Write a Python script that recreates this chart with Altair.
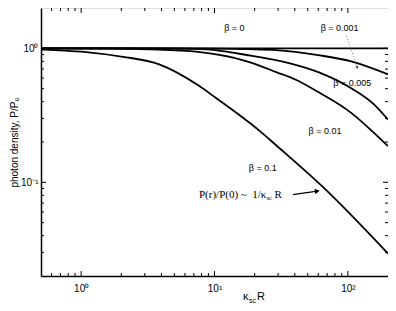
import altair as alt
import pandas as pd

# ---- curve data (kappa_sc R, P/P0) ----
x_b0 = [0.5, 200.0]
y_b0 = [1.0, 1.0]

x_b001 = [0.5, 5.0, 10.0, 17.5, 29.0, 60.0, 106.0, 200.0]
y_b001 = [1.0, 0.999, 0.995, 0.985, 0.97, 0.89, 0.80, 0.64]

x_b005 = [0.5, 3.25, 7.55, 17.5, 37.4, 60.0, 106.0, 157.0, 200.0]
y_b005 = [1.0, 0.998, 0.99, 0.892, 0.77, 0.665, 0.504, 0.382, 0.294]

x_b01 = [0.5, 1.4, 3.25, 7.55, 17.5, 29.0, 40.7, 60.0, 106.0, 157.0, 200.0]
y_b01 = [1.0, 0.997, 0.982, 0.94, 0.80, 0.665, 0.583, 0.472, 0.33, 0.234, 0.186]

x_b1 = [0.5, 0.75, 1.18, 2.06, 3.85, 7.55, 10.2, 21.8, 29.0, 65.2, 200.0]
y_b1 = [0.98, 0.96, 0.93, 0.865, 0.76, 0.53, 0.428, 0.242, 0.189, 0.092, 0.0294]

series = {"0": (x_b0, y_b0), "0.001": (x_b001, y_b001), "0.005": (x_b005, y_b005),
          "0.01": (x_b01, y_b01), "0.1": (x_b1, y_b1)}

# tick values
x_major = [1, 10, 100]
x_minor = [0.6, 0.7, 0.8, 0.9, 2, 3, 4, 5, 6, 7, 8, 9, 20, 30, 40, 50, 60, 70, 80, 90]
y_major = [0.1, 1]
y_minor = [0.03, 0.04, 0.05, 0.06, 0.07, 0.08, 0.09, 0.2, 0.3, 0.4, 0.5, 0.6, 0.7, 0.8, 0.9]

# annotation texts and anchors (data coordinates)
ann_text = ["β = 0", "β = 0.001", "β = 0.005", "β = 0.01", "β = 0.1"]
ann_x = [14.1, 86.8, 108.0, 67.4, 23.0]
ann_y = [1.41, 1.41, 0.547, 0.241, 0.128]

rows = []
for b, (xs_, ys_) in series.items():
    for a, c in zip(xs_, ys_):
        rows.append({"x": a, "y": c, "beta": b})
df = pd.DataFrame(rows)

W, H = 347, 268
FONT = "Liberation Sans"
xs = alt.Scale(type="log", domain=[0.5, 200], nice=False)
ys = alt.Scale(type="log", domain=[0.02, 2], nice=False)

XAX = alt.Axis(
    values=x_major, ticks=False, grid=False, title=None, domainColor="black", domainWidth=1.5,
    labelExpr="datum.value == 1 ? '10⁰' : (datum.value == 10 ? '10¹' : '10²')",
    labelFont=FONT, labelFontSize=10, labelColor="black", labelPadding=7)
YAX = alt.Axis(
    values=y_major, ticks=False, grid=False, title="photon density, P/P₀",
    titleFont=FONT, titleFontSize=10, titleFontWeight="normal", titleColor="black", titlePadding=1,
    domainColor="black", domainWidth=1.5,
    labelExpr="datum.value == 1 ? '10⁰' : '10⁻¹'",
    labelFont=FONT, labelFontSize=10, labelColor="black", labelPadding=3)


def X(field):
    return alt.X(field, scale=xs, axis=XAX)


def Y(field):
    return alt.Y(field, scale=ys, axis=YAX)


lines = alt.Chart(df).mark_line(color="black", strokeWidth=1.8, interpolate="monotone", clip=True).encode(
    x=X("x:Q"), y=Y("y:Q"), detail="beta:N")


def tick_layer(vals, axis, side, length):
    d = pd.DataFrame({"v": vals})
    base = alt.Chart(d).mark_rule(color="black", strokeWidth=1)
    if axis == "x":
        y0 = H if side == "bottom" else 0
        y1 = H - length if side == "bottom" else length
        return base.encode(x=X("v:Q"), y=alt.value(y0), y2=alt.value(y1))
    x0 = 0 if side == "left" else W
    x1 = length if side == "left" else W - length
    return base.encode(y=Y("v:Q"), x=alt.value(x0), x2=alt.value(x1))


ticks = [
    tick_layer(x_major, "x", "bottom", 5), tick_layer(x_minor, "x", "bottom", 3),
    tick_layer(x_major, "x", "top", 5), tick_layer(x_minor, "x", "top", 3),
    tick_layer(y_major, "y", "left", 5), tick_layer(y_minor, "y", "left", 3),
    tick_layer(y_major, "y", "right", 5), tick_layer(y_minor, "y", "right", 3),
]

ann_df = pd.DataFrame({"t": ann_text, "x": ann_x, "y": ann_y})
ann = alt.Chart(ann_df).mark_text(font=FONT, fontSize=9, color="black", align="center", baseline="middle").encode(
    x=X("x:Q"), y=Y("y:Q"), text="t:N")

# formula annotation P(r)/P(0) ~ 1/kappa_sc R
f_x, f_y = 24.5, 0.081
one = pd.DataFrame({"x": [f_x], "y": [f_y]})
f1 = alt.Chart(one).mark_text(font="Liberation Serif", fontSize=11, color="black", align="right",
                              baseline="middle", text="P(r)/P(0) ~\u00a0\u00a01/κ").encode(x=X("x:Q"), y=Y("y:Q"))
f2 = alt.Chart(one).mark_text(font="Liberation Serif", fontSize=7, color="black", align="left",
                              baseline="middle", dx=0, dy=3, text="sc").encode(x=X("x:Q"), y=Y("y:Q"))
f3 = alt.Chart(one).mark_text(font="Liberation Serif", fontSize=11, color="black", align="left",
                              baseline="middle", dx=8, text="R").encode(x=X("x:Q"), y=Y("y:Q"))

# solid arrow
arr = pd.DataFrame({"x": [38.7], "y": [0.081], "x2": [59.0], "y2": [0.086]})
arrow_line = alt.Chart(arr).mark_rule(color="black", strokeWidth=1.2).encode(
    x=X("x:Q"), y=Y("y:Q"), x2="x2:Q", y2="y2:Q")
arrow_head = alt.Chart(arr).mark_point(shape="triangle-right", filled=True, color="black", size=30,
                                       angle=352, opacity=1).encode(x=X("x2:Q"), y=Y("y2:Q"))

# dotted arrow to beta=0.001
darr = pd.DataFrame({"x": [97.7], "y": [1.236], "x2": [117.5], "y2": [0.72]})
dline = alt.Chart(darr).mark_rule(color="#555555", strokeWidth=0.8, strokeDash=[1, 2]).encode(
    x=X("x:Q"), y=Y("y:Q"), x2="x2:Q", y2="y2:Q")
dhead = alt.Chart(darr).mark_point(shape="triangle-right", filled=True, color="#333333", size=10,
                                   angle=70, opacity=1).encode(x=X("x2:Q"), y=Y("y2:Q"))

# x-axis title kappa_sc R
tdf = pd.DataFrame({"a": [0]})
t1 = alt.Chart(tdf).mark_text(font=FONT, fontSize=11, color="black", align="left", baseline="alphabetic",
                              text="κ").encode(x=alt.value(202), y=alt.value(H + 24))
t2 = alt.Chart(tdf).mark_text(font=FONT, fontSize=7, color="black", align="left", baseline="alphabetic",
                              text="sc").encode(x=alt.value(208), y=alt.value(H + 27))
t3 = alt.Chart(tdf).mark_text(font=FONT, fontSize=11, color="black", align="left", baseline="alphabetic",
                              text="R").encode(x=alt.value(216), y=alt.value(H + 24))

chart = alt.layer(lines, *ticks, ann, f1, f2, f3, arrow_line, arrow_head, dline, dhead, t1, t2, t3).properties(
    width=W, height=H,
    autosize=alt.AutoSizeParams(type="none"),
    padding={"left": 33, "top": 0, "right": 0, "bottom": 27},
).configure_view(stroke="black", strokeWidth=1).configure(background="white")

chart.save("out.html", embed_options={"renderer": "svg", "actions": False})
